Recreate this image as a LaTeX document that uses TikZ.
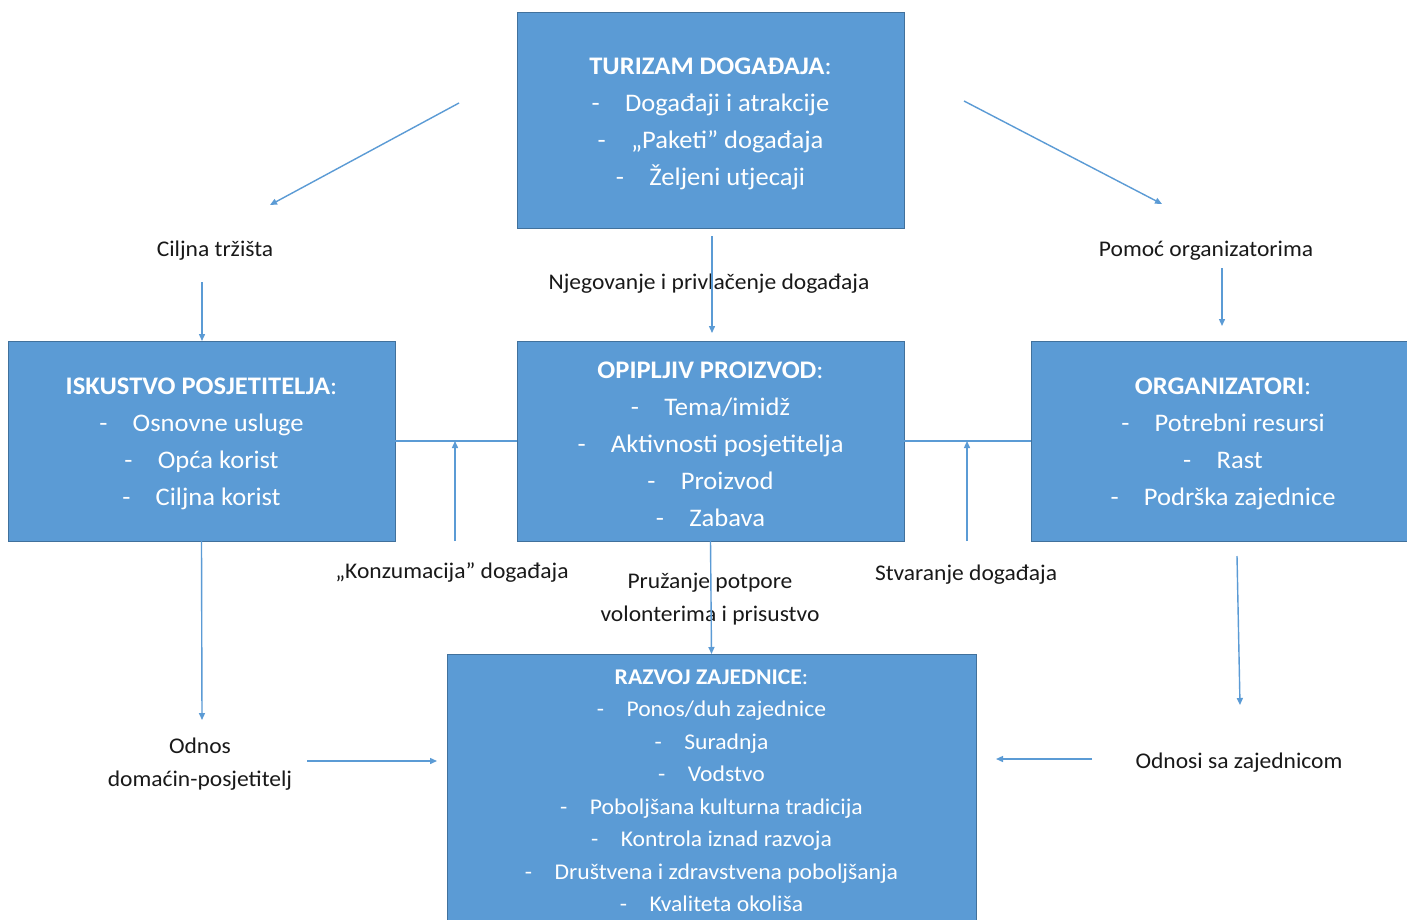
\documentclass[tikz,border=0pt]{standalone}
\usepackage{fontspec}
\setmainfont{Carlito}[FakeStretch=1.05]
\usetikzlibrary{arrows.meta}
\definecolor{boxblue}{HTML}{5B9BD5}
\definecolor{boxedge}{HTML}{41719C}
\definecolor{linkblue}{HTML}{5B9BD5}
\newcommand\li{-\hspace{1em}}
\tikzset{
  bigbox/.style={rectangle, fill=boxblue, draw=boxedge, line width=1pt,
    inner sep=0pt, outer sep=0pt},
  boxtxt/.style={text=white, align=center, inner sep=0pt, yshift=-3pt,
    font=\fontsize{25.3}{37}\selectfont},
  lbl/.style={align=center, inner sep=0pt, text=black!90, font=\fontsize{22.4}{32.5}\selectfont},
  link/.style={draw=linkblue, line width=1.4pt},
  arr/.style={link, -{Triangle[length=7pt,width=6pt]}}
}
\begin{document}
\begin{tikzpicture}[x=1pt,y=-1pt]
\useasboundingbox (0,0) rectangle (1407,920);
\clip (0,0) rectangle (1407,920);
\fill[white] (0,0) rectangle (1407,920);

% boxes
\node[bigbox, minimum width=387pt, minimum height=215pt,
  label={[boxtxt]center:{\textbf{TURIZAM DOGAĐAJA}:\\ \li Događaji i atrakcije\\ \li „Paketi” događaja\\ \li Željeni utjecaji}}] (top) at (710.5,120.5) {};
\node[bigbox, minimum width=387pt, minimum height=200pt,
  label={[boxtxt]center:{\textbf{ISKUSTVO POSJETITELJA}:\\ \li Osnovne usluge\\ \li Opća korist\\ \li Ciljna korist}}] (left) at (201.5,441) {};
\node[bigbox, minimum width=387pt, minimum height=200pt,
  label={[boxtxt]center:{\textbf{OPIPLJIV PROIZVOD}:\\ \li Tema/imidž\\ \li Aktivnosti posjetitelja\\ \li Proizvod\\ \li Zabava}}] (mid) at (710.5,441) {};
\node[bigbox, minimum width=384pt, minimum height=200pt,
  label={[boxtxt]center:{\textbf{ORGANIZATORI}:\\ \li Potrebni resursi\\ \li Rast\\ \li Podrška zajednice}}] (right) at (1223,441) {};
\node[bigbox, minimum width=529pt, minimum height=271pt,
  label={[boxtxt, yshift=2pt, font=\fontsize{22.5}{32.5}\selectfont]center:{\textbf{RAZVOJ ZAJEDNICE}:\\ \li Ponos/duh zajednice\\ \li Suradnja\\ \li Vodstvo\\ \li Poboljšana kulturna tradicija\\ \li Kontrola iznad razvoja\\ \li Društvena i zdravstvena poboljšanja\\ \li Kvaliteta okoliša}}] (bot) at (711.5,789.5) {};

% labels
\node[lbl] (ciljna) at (215,251) {Ciljna tržišta};
\node[lbl] (pomoc) at (1206,251) {Pomoć organizatorima};
\node[lbl] (njeg) at (709,284) {Njegovanje i privlačenje događaja};
\node[lbl] (konz) at (452,573) {„Konzumacija” događaja};
\node[lbl] (stvar) at (966,575) {Stvaranje događaja};
\node[lbl] (pruz) at (710,599) {Pružanje potpore\\ volonterima i prisustvo};
\node[lbl] (odnos) at (200,764) {Odnos\\ domaćin-posjetitelj};
\node[lbl] (odnosi) at (1239,763) {Odnosi sa zajednicom};

% free ends
\coordinate (dl1) at (459,103);
\coordinate (dl2) at (270,205);
\coordinate (dr1) at (964,101);
\coordinate (dr2) at (1162,204);
\coordinate (c1) at (202,282);
\coordinate (p1) at (1222,268);
\coordinate (p2) at (1222,326);
\coordinate (n1) at (712,236);
\coordinate (n2) at (712,333);
\coordinate (k1) at (455,541);
\coordinate (k2) at (455,441);
\coordinate (s1) at (967,541);
\coordinate (s2) at (967,441);
\coordinate (o1) at (202,720);
\coordinate (h1) at (307,761);
\coordinate (h2) at (437,761);
\coordinate (r1) at (1237,556);
\coordinate (r2) at (1240,705);
\coordinate (z1) at (1092,759);
\coordinate (z2) at (996,759);

% connectors
\draw[arr] (dl1) -- (dl2);
\draw[arr] (dr1) -- (dr2);
\draw[arr] (c1) -- (c1 |- left.north);
\draw[arr] (p1) -- (p2);
\draw[arr] (n1) -- (n2);
\draw[link] (left.east) -- (mid.west);
\draw[link] (mid.east) -- (right.west);
\draw[arr] (k1) -- (k2);
\draw[arr] (s1) -- (s2);
\draw[arr] (mid.south) -- (bot.north);
\draw[arr] (left.south) -- (o1);
\draw[arr] (h1) -- (h2);
\draw[arr] (r1) -- (r2);
\draw[arr] (z1) -- (z2);
\end{tikzpicture}
\end{document}
